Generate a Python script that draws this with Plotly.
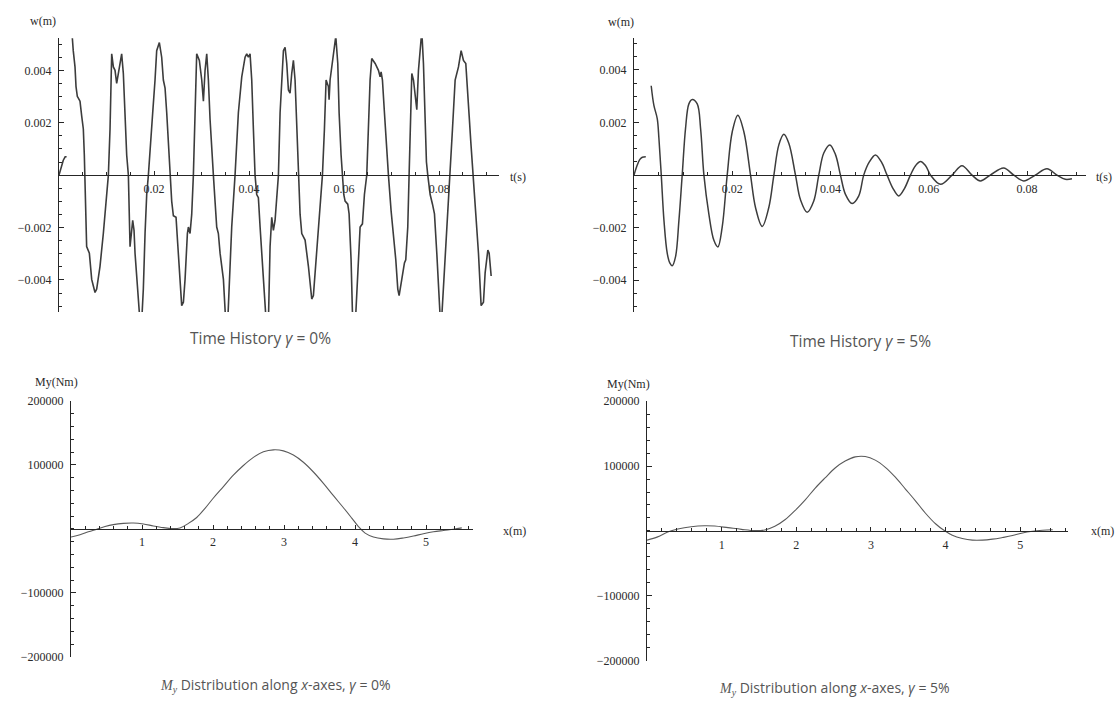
import plotly.graph_objects as go

# ---------------- data ----------------
# Time history, gamma = 0 %
TL_T = [0, 0.0006, 0.0009, 0.0013, 0.0016, 0.0017,
        0.0019, 0.0027, 0.0030, 0.00337, 0.00358, 0.00386, 0.00407, 0.00442, 0.00477, 0.00512,
        0.00533, 0.00547, 0.00568, 0.00582, 0.00639, 0.00688, 0.00723, 0.00758, 0.00793, 0.00863,
        0.00933, 0.01004, 0.01039, 0.01074, 0.01095, 0.01109, 0.01144, 0.01179, 0.01214, 0.01249,
        0.01284, 0.01319, 0.01354, 0.01389, 0.01425, 0.0146, 0.01481, 0.01495, 0.01551, 0.01579,
        0.016, 0.0167, 0.01705, 0.0174, 0.01775, 0.01811, 0.01846, 0.01881, 0.01916, 0.01972,
        0.02021, 0.02056, 0.02112, 0.02161, 0.02196, 0.02232, 0.02267, 0.02302, 0.02337, 0.02372,
        0.02407, 0.02463, 0.02498, 0.02547, 0.02582, 0.02618, 0.02653, 0.02702, 0.02723, 0.02758,
        0.02793, 0.02828, 0.02863, 0.02898, 0.02954, 0.03004, 0.03039, 0.03074, 0.03109, 0.03144,
        0.03179, 0.03214, 0.03249, 0.03284, 0.03319, 0.03354, 0.0339, 0.0346, 0.03509, 0.03551,
        0.036, 0.03635, 0.03705, 0.03775, 0.03846, 0.03916, 0.03951, 0.03986, 0.04021, 0.04056,
        0.04091, 0.04126, 0.04161, 0.04196, 0.04232, 0.04302, 0.0436, 0.04407, 0.04442, 0.04477,
        0.04512, 0.04547, 0.04582, 0.04618, 0.04653, 0.04723, 0.04758, 0.04793, 0.04828, 0.04863,
        0.04898, 0.04933, 0.04968, 0.05004, 0.05039, 0.05074, 0.05109, 0.05144, 0.05179, 0.05249,
        0.05319, 0.05354, 0.05389, 0.0546, 0.05516, 0.05544, 0.05586, 0.05621, 0.0567, 0.05684,
        0.05705, 0.05775, 0.05825, 0.05867, 0.05895, 0.05937, 0.05965, 0.05993, 0.06021, 0.06077,
        0.06105, 0.06147, 0.06175, 0.06211, 0.06246, 0.06288, 0.06337, 0.06386, 0.06428, 0.06477,
        0.06512, 0.06547, 0.06582, 0.06653, 0.06723, 0.06758, 0.06779, 0.06807, 0.06849, 0.06898,
        0.06933, 0.06989, 0.07039, 0.07088, 0.0713, 0.07158, 0.07214, 0.0727, 0.07298, 0.0734,
        0.07368, 0.07404, 0.07425, 0.0746, 0.07495, 0.0753, 0.07565, 0.076, 0.07635, 0.0767,
        0.07705, 0.07733, 0.07761, 0.07811, 0.0786, 0.07902, 0.07951, 0.08021, 0.08056, 0.08126,
        0.08196, 0.08232, 0.08281, 0.08337, 0.08407, 0.08463, 0.08512, 0.08561, 0.08603, 0.08632,
        0.08667, 0.08688, 0.08723, 0.08772, 0.08828, 0.08884, 0.08933, 0.08968, 0.09025, 0.09053,
        0.09095]
TL_W = [0, 0.0004, 0.00057, 0.0007, 0.0007, None,
        0.0058, 0.0055, 0.00475, 0.00413, 0.00338, 0.0030, 0.00294, 0.00282, 0.00226, 0.00176,
        0.00076, 0.0, -0.00136, -0.00273, -0.00298, -0.00398, -0.00423, -0.00448, -0.00435, -0.00348,
        -0.00223, -0.00074, 0.0, 0.00176, 0.00363, 0.00463, 0.00413, 0.0040, 0.0035, 0.00388,
        0.00426, 0.00463, 0.00388, 0.00238, 0.00076, 0.0, -0.00136, -0.00273, -0.00173, -0.00211,
        -0.00298, -0.00448, -0.0056, -0.0056, -0.00435, -0.00223, -0.00074, 0.0, 0.0008, 0.00238,
        0.00363, 0.00475, 0.00506, 0.0045, 0.00363, 0.00332, 0.00238, 0.00113, 0.0, -0.0010,
        -0.00155, -0.00161, -0.00261, -0.00423, -0.00498, -0.00485, -0.00398, -0.00223, -0.00198, -0.00223,
        -0.0015, 0.0, 0.00238, 0.00463, 0.00438, 0.00363, 0.00282, 0.0040, 0.00463, 0.00363,
        0.00213, 0.00076, 0.0, -0.0010, -0.00198, -0.00223, -0.00298, -0.00398, -0.0056, -0.0056,
        -0.00323, -0.00198, 0.0, 0.00238, 0.00375, 0.0045, 0.00463, 0.0045, 0.00463, 0.00363,
        0.00176, 0.0, -0.00074, -0.00086, -0.00198, -0.00385, -0.0056, -0.0056, -0.00273, -0.00161,
        -0.00211, -0.00173, -0.00074, 0.0, 0.00238, 0.00475, 0.00488, 0.00426, 0.00325, 0.00313,
        0.00388, 0.00438, 0.00363, 0.0020, 0.0, -0.0015, -0.00223, -0.00236, -0.00248, -0.00348,
        -0.00473, -0.0046, -0.00373, -0.00198, -0.00074, 0.0, 0.00176, 0.00363, 0.00338, 0.00288,
        0.00363, 0.00463, 0.0053, 0.00426, 0.00238, 0.00076, 0.0, -0.00074, -0.00099, -0.00111,
        -0.00148, -0.00323, -0.0052, -0.0057, -0.0053, -0.00385, -0.00198, -0.00186, -0.00074, 0.0,
        0.00176, 0.00363, 0.00445, 0.00426, 0.0040, 0.00375, 0.00394, 0.00363, 0.00238, 0.00076,
        0.0, -0.00136, -0.00223, -0.00323, -0.00435, -0.0046, -0.00398, -0.00335, -0.00323, -0.00198,
        0.0, 0.00238, 0.00388, 0.00363, 0.0030, 0.0025, 0.0040, 0.00475, 0.0055, 0.00426,
        0.00226, 0.0005, 0.0, -0.00074, -0.00111, -0.00148, -0.00298, -0.0054, -0.0054, -0.00323,
        -0.00124, 0.0, 0.00176, 0.00363, 0.00413, 0.00475, 0.00438, 0.00426, 0.00325, 0.00226,
        0.00126, 0.00063, 0.0, -0.0015, -0.00298, -0.00498, -0.00485, -0.00373, -0.00286, -0.00298,
        -0.00385]

# Time history, gamma = 5 %
TR_T = [0, 0.0005, 0.0012, 0.0017, 0.0024, 0.0026,
        0.0035, 0.00405, 0.00473, 0.00507, 0.00555, 0.0061, 0.00677, 0.00731, 0.00778, 0.00846,
        0.00914, 0.00981, 0.01049, 0.01117, 0.01185, 0.01287, 0.01355, 0.01423, 0.01524, 0.01626,
        0.01707, 0.01795, 0.01897, 0.0200, 0.02114, 0.02236, 0.02372, 0.02473, 0.02609, 0.02744,
        0.02847, 0.02948, 0.03049, 0.03151, 0.03287, 0.03389, 0.03524, 0.03659, 0.03761, 0.03863,
        0.03985, 0.04101, 0.04202, 0.04304, 0.0444, 0.04575, 0.04676, 0.0479, 0.04914, 0.05035,
        0.05151, 0.0527, 0.05388, 0.05507, 0.05626, 0.0573, 0.05832, 0.05935, 0.06036, 0.0624,
        0.06474, 0.06676, 0.0688, 0.0705, 0.07252, 0.07524, 0.0773, 0.07932, 0.08168, 0.08406,
        0.08609, 0.08778, 0.08914]
TR_W = [0, 0.0003, 0.0006, 0.00068, 0.0007, None,
        0.0034, 0.00265, 0.00215, 0.0014, 0.0, -0.00173, -0.00298, -0.00335, -0.00345, -0.0031,
        -0.00173, 0.0, 0.00178, 0.00271, 0.00288, 0.00271, 0.00178, 0.0, -0.00148, -0.00248,
        -0.00273, -0.00198, 0.0, 0.00165, 0.00228, 0.00165, 0.0, -0.00123, -0.00195, -0.00123,
        0.0, 0.00115, 0.00155, 0.00121, 0.0, -0.00094, -0.00141, -0.00098, 0.0, 0.00084,
        0.00115, 0.00078, 0.0, -0.00073, -0.00108, -0.00079, 0.0, 0.0005, 0.00077, 0.0005,
        0.0, -0.0005, -0.00079, -0.0005, 0.0, 0.00036, 0.00052, 0.00036, 0.0, -0.00035,
        0.0, 0.00036, 0.0, -0.00022, 0.0, 0.00027, 0.0, -0.00022, 0.0, 0.00024,
        0.0, -0.00016, -0.00014]

# My distribution along x, gamma = 0 %
BL_X = [0, 0.127, 0.244, 0.362, 0.479, 0.596, 0.737, 0.878, 1.019, 1.16, 1.30, 1.418, 1.535,
        1.653, 1.77, 1.887, 2.005, 2.146, 2.286, 2.427, 2.568, 2.709, 2.85, 2.991, 3.131, 3.272,
        3.413, 3.554, 3.695, 3.836, 3.953, 4.047, 4.141, 4.258, 4.399, 4.54, 4.681, 4.822, 4.962,
        5.103, 5.244, 5.385, 5.502]
BL_M = [-12700, -9100, -4600, -500, 3600, 6600, 8600, 9100, 7600, 4600, 2000, 500, 1500,
        8600, 17800, 32000, 48200, 66000, 83800, 99000, 111700, 120300, 123400, 121800, 115200, 104000,
        88800, 71100, 51800, 33000, 16800, 3600, -6600, -12700, -15700, -16200, -14200, -11200, -7600,
        -4600, -2500, -500, 1500]

# My distribution along x, gamma = 5 %
BR_X = [0, 0.143, 0.278, 0.413, 0.592, 0.771, 0.906, 1.085, 1.265, 1.444, 1.578, 1.713, 1.848,
        1.982, 2.117, 2.251, 2.386, 2.52, 2.655, 2.789, 2.924, 3.058, 3.193, 3.327, 3.462, 3.596,
        3.731, 3.865, 3.978, 4.09, 4.224, 4.359, 4.493, 4.628, 4.762, 4.897, 5.031, 5.166, 5.3,
        5.435]
BR_M = [-14100, -9100, -1500, 3000, 6600, 8100, 7600, 5100, 2500, 500, 1500, 7100, 17200,
        31300, 47500, 65700, 81800, 97000, 107600, 114100, 114600, 109100, 98000, 82800, 64600, 46500,
        27300, 11100, 1000, -6600, -11600, -14100, -14100, -12600, -10100, -7100, -3000, -500, 1000,
        2000]

T_TICKS = [0.02, 0.04, 0.06, 0.08]
T_TICKTEXT = ["0.02", "0.04", "0.06", "0.08"]
W_TICKS = [-0.004, -0.002, 0.002, 0.004]
W_TICKTEXT = ["\u22120.004", "\u22120.002", "0.002", "0.004"]
X_TICKS = [1, 2, 3, 4, 5]
X_TICKTEXT = ["1", "2", "3", "4", "5"]
M_TICKS = [-200000, -100000, 100000, 200000]
M_TICKTEXT = ["\u2212200000", "\u2212100000", "100000", "200000"]

TITLES = ["Time History <i>\u03b3</i> = 0%", "Time History <i>\u03b3</i> = 5%",
          "<span style='font-family:Liberation Serif'><i>M</i><sub><i>y</i></sub></span> Distribution along <i>x</i>-axes, <i>\u03b3</i> = 0%",
          "<span style='font-family:Liberation Serif'><i>M</i><sub><i>y</i></sub></span> Distribution along <i>x</i>-axes, <i>\u03b3</i> = 5%"]

# ---------------- figure ----------------
W, H = 1117, 711
def px(x):
    return x / W
def py(y):
    return 1 - y / H

AX = "#262626"
TICKFONT = dict(family="Liberation Serif", size=12, color="#2a2a2a")

fig = go.Figure()
fig.add_trace(go.Scatter(x=TL_T, y=TL_W, mode="lines", xaxis="x", yaxis="y",
                         line=dict(color="#3c3c3c", width=1.6), connectgaps=False))
fig.add_trace(go.Scatter(x=TR_T, y=TR_W, mode="lines", xaxis="x2", yaxis="y2",
                         line=dict(color="#3c3c3c", width=1.5, shape="spline", smoothing=1.0),
                         connectgaps=False))
fig.add_trace(go.Scatter(x=BL_X, y=BL_M, mode="lines", xaxis="x3", yaxis="y3",
                         line=dict(color="#5a5a5a", width=1.1, shape="spline", smoothing=1.0)))
fig.add_trace(go.Scatter(x=BR_X, y=BR_M, mode="lines", xaxis="x4", yaxis="y4",
                         line=dict(color="#5a5a5a", width=1.1, shape="spline", smoothing=1.0)))

def xaxis(domain, rng, pos, tv, tt, minor_dtick):
    return dict(domain=domain, range=rng, anchor="free", position=pos,
                showline=True, linecolor=AX, linewidth=1.3, showgrid=False, zeroline=False,
                tickvals=tv, ticktext=tt, ticks="inside", ticklen=4, tickcolor=AX,
                tickfont=TICKFONT, fixedrange=True, ticklabelstandoff=2,
                minor=dict(dtick=minor_dtick, tick0=0, ticks="inside", ticklen=2.5,
                           tickcolor=AX, showgrid=False))

def yaxis(domain, rng, xname, tv, tt, minor_dtick):
    return dict(domain=domain, range=rng, anchor=xname, showline=True, linecolor=AX,
                linewidth=1.3, showgrid=False, zeroline=False, tickvals=tv, ticktext=tt,
                ticks="inside", ticklen=5, tickcolor=AX, tickfont=TICKFONT, fixedrange=True,
                ticklabelstandoff=4,
                minor=dict(dtick=minor_dtick, tick0=0, ticks="inside", ticklen=3,
                           tickcolor=AX, showgrid=False))

tl_yd = [py(311), py(32)]
tr_yd = [py(311.5), py(31.5)]
bl_yd = [py(663), py(401.7)]
br_yd = [py(667), py(402)]

fig.update_layout(
    width=W, height=H, margin=dict(l=0, r=0, t=0, b=0),
    paper_bgcolor="white", plot_bgcolor="rgba(0,0,0,0)", showlegend=False,
    xaxis=xaxis([px(59), px(499)], [0, 0.0926], sum(tl_yd) / 2, T_TICKS, T_TICKTEXT, 0.005),
    yaxis=yaxis(tl_yd, [-0.00522, 0.00522], "x", W_TICKS, W_TICKTEXT, 0.0005),
    xaxis2=xaxis([px(634), px(1086)], [0, 0.092], sum(tr_yd) / 2, T_TICKS, T_TICKTEXT, 0.005),
    yaxis2=yaxis(tr_yd, [-0.00522, 0.00522], "x2", W_TICKS, W_TICKTEXT, 0.0005),
    xaxis3=xaxis([px(71), px(473)], [0, 5.66], sum(bl_yd) / 2, X_TICKS, X_TICKTEXT, 0.2),
    yaxis3=yaxis(bl_yd, [-200000, 200000], "x3", M_TICKS, M_TICKTEXT, 20000),
    xaxis4=xaxis([px(647), px(1068)], [0, 5.64], sum(br_yd) / 2, X_TICKS, X_TICKTEXT, 0.2),
    yaxis4=yaxis(br_yd, [-200000, 200000], "x4", M_TICKS, M_TICKTEXT, 20000),
)

LABFONT = dict(family="Liberation Serif", size=12, color="#2a2a2a")
labels = [("w(m)", 43, 14, "center"), ("t(s)", 518, 173, "center"),
          ("w(m)", 621, 15, "center"), ("t(s)", 1114, 173, "right"),
          ("My(Nm)", 56, 383, "center"), ("x(m)", 514, 535, "center"),
          ("My(Nm)", 628, 385, "center"), ("x(m)", 1116, 535, "right")]
ann = []
for text, x, y, xa in labels:
    ann.append(dict(text=text, x=px(x), y=py(y), xref="paper", yref="paper", showarrow=False,
                    xanchor=xa, yanchor="middle", font=LABFONT))

for text, x, y, sz in zip(TITLES, [260, 860, 275, 834], [338, 341, 692, 695], [15.5, 15.5, 14, 14]):
    ann.append(dict(text=text, x=px(x), y=py(y), xref="paper", yref="paper", showarrow=False,
                    xanchor="center", yanchor="middle",
                    font=dict(family="Open Sans", size=sz, color="#555555")))
fig.update_layout(annotations=ann)

fig.write_html("out.html", config={"displayModeBar": False},
               post_script="document.body.style.margin='0';document.body.style.overflow='hidden';")
